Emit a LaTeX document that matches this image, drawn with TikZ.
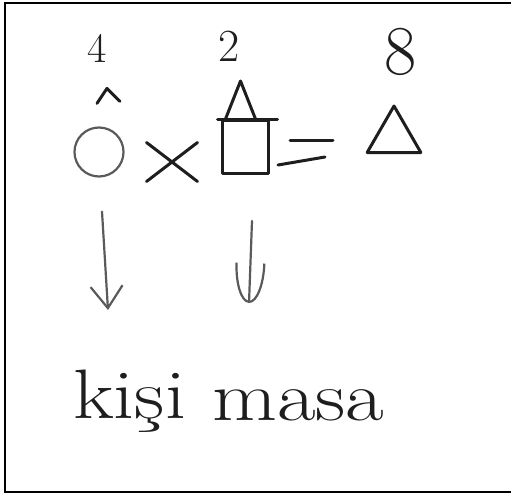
\documentclass[tikz,border=0pt]{standalone}
\usepackage{fontspec}
\usepackage{graphicx}
\definecolor{sketchInk}{RGB}{30,30,30}
\definecolor{sketchGray}{RGB}{90,90,90}
\usepackage{tikz}
\usetikzlibrary{arrows.meta,positioning,shapes.geometric,shapes.misc,calc}
\newcommand{\widehand}[1]{\scalebox{1.2}[1]{#1}}

\begin{document}
\begin{tikzpicture}[
    x=1pt, y=-1pt,
    pen/.style={sketchInk, line width=3pt, line cap=round, line join=round},
    thinpen/.style={sketchGray, line width=2.2pt, line cap=round, line join=round},
    word/.style={font=\fontsize{70}{74}\selectfont, text=sketchInk, inner sep=0pt, anchor=base west}
  ]
  \useasboundingbox (0,0) rectangle (511,495);
  \draw[black, line width=2.5pt] (511,3) -- (5,3) -- (5,492) -- (511,492);
  % shapes of the equation
  \node[circle, draw, thinpen, minimum size=49pt, inner sep=0pt] (circ) at (99,152) {};
  \node[cross out, draw, pen, minimum width=48pt, minimum height=36pt, inner sep=0pt] (mul) at (172,162) {};
  \node[rectangle, draw, pen, minimum width=46pt, minimum height=53pt, inner sep=0pt] (sq) at (245,147) {};
  \node[regular polygon, regular polygon sides=3, draw, pen, minimum size=62pt, inner sep=0pt] (tri) at (394,137) {};
  \draw[pen] (290,140) -- (333,140);
  \draw[pen] (278,165) -- (325,157);
  % carets and roof
  \draw[pen] (circ.north) ++(-2,-23) -- ++(10,-15) -- ++(13,13);
  \draw[pen] ([xshift=-3pt]sq.north west) -- ([xshift=8pt]sq.north east);
  \draw[pen] ([xshift=5pt]sq.north west) -- ++(15,-38) -- ++(15,38);
  % numbers
  \node[font=\fontsize{42}{44}\selectfont, text=sketchInk] (numC) at (97,48) {4};
  \node[font=\fontsize{46}{48}\selectfont, text=sketchInk] (numS) at (229,46) {2};
  \node[font=\fontsize{70}{72}\selectfont, text=sketchInk] (numT) at (401,52) {8};
  % words
  \node[word] (kisi) at (73,418) {\widehand{kişi}};
  \node[word] (masa) at (212,420) {\widehand{masa}};
  \coordinate (kisiTip) at (108,310);
  \coordinate (masaTip) at (249,303);
  \draw[thinpen, -{Straight Barb[length=22pt, width=32pt]}] ([shift={(3,34)}]circ.south) -- (kisiTip);
  \draw[thinpen, -{Arc Barb[length=40pt, width=30pt]}] ([shift={(7,46)}]sq.south) -- (masaTip);
\end{tikzpicture}
\end{document}
